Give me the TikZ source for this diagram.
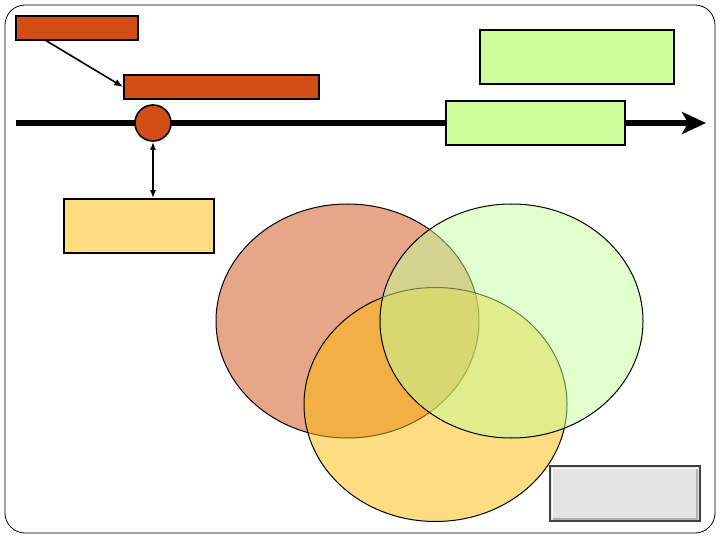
\documentclass[tikz,border=0pt]{standalone}
\usepackage{tikz}
\usetikzlibrary{arrows}
\usetikzlibrary{arrows.meta}
\definecolor{rust}{RGB}{210,77,24}
\definecolor{lime}{RGB}{204,255,153}
\definecolor{sand}{RGB}{255,221,128}
\definecolor{redblob}{RGB}{209,77,19}
\definecolor{greenblob}{RGB}{193,255,153}
\definecolor{yellowblob}{RGB}{253,185,5}

\begin{document}
\begin{tikzpicture}[x=1pt,y=-1pt,
  box/.style={draw, rectangle, line width=1.6pt, inner sep=0pt}]
\useasboundingbox (0,0) rectangle (720,540);
\draw[rounded corners=20pt, line width=0.8pt] (5,5) rectangle (715,533);

% timeline
\coordinate (t0) at (16,123);
\coordinate (t1) at (706,123);
\draw[line width=6pt, -{Stealth[length=24pt,width=22pt,inset=6pt]}] (t0) -- (t1);

\node[box, fill=rust, minimum width=122pt, minimum height=24pt] (s1) at (77,28) {};
\node[box, fill=rust, minimum width=195pt, minimum height=24pt] (s2) at (221.5,87) {};
\node[draw, circle, fill=rust, line width=1.6pt, minimum size=36pt, inner sep=0pt] (c1) at (153,123) {};
\node[box, fill=sand, minimum width=150pt, minimum height=54pt] (y1) at (139,226) {};

\node[box, fill=lime, minimum width=194pt, minimum height=54pt] (g1) at (577,57) {};
\node[box, fill=lime, minimum width=179pt, minimum height=44pt] (g2) at (535.5,123) {};

% circles
\draw[line width=1pt, fill=redblob, fill opacity=0.5] (347.5,321) ellipse [x radius=131.5, y radius=117];
\draw[line width=1pt, fill=yellowblob, fill opacity=0.5] (435.5,404.5) ellipse [x radius=131.5, y radius=117];
\draw[line width=1pt, fill=greenblob, fill opacity=0.5] (511.5,321) ellipse [x radius=131.5, y radius=117];

% button
\node[draw=black!75, rectangle, fill=gray!20, line width=1.8pt, minimum width=150pt, minimum height=55pt] (b1) at (625,493.5) {};
\draw[white, line width=1.5pt] (552.5,518) -- (552.5,468.5) -- (697.5,468.5);
\draw[gray!60, line width=2pt] (553,518.5) -- (697,518.5) -- (697,469);

\coordinate (a1) at (45,40);
\path
    (a1) edge[-{Latex[length=9pt,width=7pt]}, line width=1.6pt] (s2.west)
    (c1.south) edge[{Latex[length=8pt,width=6pt]}-{Latex[length=8pt,width=6pt]}, line width=1.6pt] (c1.south |- y1.north);
\end{tikzpicture}
\end{document}
